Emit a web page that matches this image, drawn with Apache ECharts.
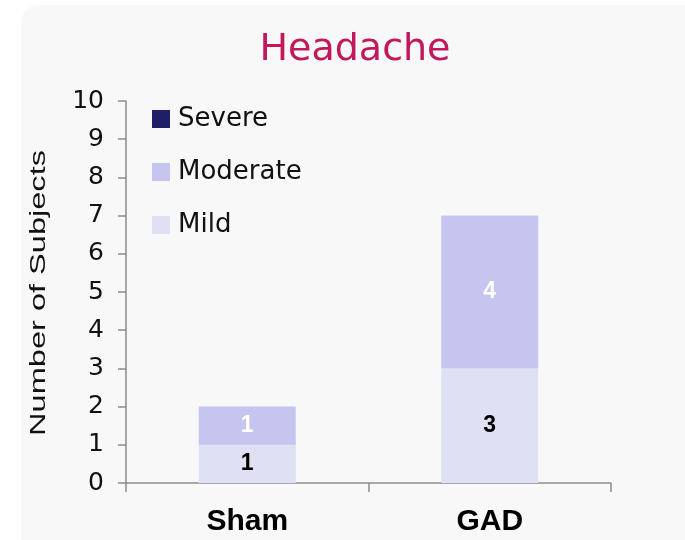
<!DOCTYPE html>
<html>
<head>
<meta charset="utf-8">
<script src="https://cdn.jsdelivr.net/npm/echarts@6/dist/echarts.min.js"></script>
<style>
  html, body { margin: 0; padding: 0; background: #ffffff; }
  #chart { width: 685px; height: 540px; }
</style>
</head>
<body>
<div id="chart"></div>
<script>
// Headache severity counts per group
const categories = ['Sham', 'GAD'];
const mild = [1, 3];
const moderate = [1, 4];
const severe = [0, 0];
const yTicks = [0, 1, 2, 3, 4, 5, 6, 7, 8, 9, 10];
const yAxisTitle = 'Number of Subjects';

const chart = echarts.init(document.getElementById('chart'));

const hideZero = (p) => (p.value === 0 ? '' : String(p.value));

chart.setOption({
  animation: false,
  graphic: [
    {
      type: 'rect',
      z: -10,
      silent: true,
      shape: { x: 21, y: 5, width: 720, height: 600, r: 18 },
      style: { fill: '#f8f8f8' }
    },
    {
      // vertical axis title, drawn elongated along its reading direction
      type: 'text',
      x: 39,
      y: 293,
      rotation: Math.PI / 2,
      scaleX: 1.48,
      silent: true,
      style: {
        text: yAxisTitle,
        font: '22px "Liberation Sans", Arial, sans-serif',
        fill: '#111',
        align: 'center',
        verticalAlign: 'middle'
      }
    }
  ],
  title: {
    text: 'Headache',
    left: 350,
    textAlign: 'center',
    top: 26,
    textStyle: { fontFamily: 'DejaVu Sans', fontWeight: 'normal', fontSize: 38, color: '#c2185b' }
  },
  legend: {
    orient: 'vertical',
    left: 147,
    top: 101,
    itemWidth: 18,
    itemHeight: 18,
    itemGap: 27,
    icon: 'rect',
    data: ['Severe', 'Moderate', 'Mild'],
    textStyle: { fontFamily: 'DejaVu Sans', fontSize: 26, color: '#111', lineHeight: 18, padding: [0, 0, 0, 3] }
  },
  grid: { left: 126, right: 74, top: 101, bottom: 57 },
  xAxis: {
    type: 'category',
    data: categories,
    axisLine: { lineStyle: { color: '#8c8c8c', width: 1.5 } },
    axisTick: { show: true, length: 9, lineStyle: { color: '#8c8c8c', width: 1.5 } },
    axisLabel: { fontFamily: 'Liberation Sans', fontWeight: 'bold', fontSize: 30, color: '#000', margin: 24 }
  },
  yAxis: {
    type: 'value',
    min: yTicks[0],
    max: yTicks[yTicks.length - 1],
    interval: 1,
    splitLine: { show: false },
    axisLine: { show: true, lineStyle: { color: '#8c8c8c', width: 1.5 } },
    axisTick: { show: true, length: 8, lineStyle: { color: '#8c8c8c', width: 1.5 } },
    axisLabel: { fontFamily: 'DejaVu Sans', fontSize: 25, color: '#111', margin: 22 }
  },
  series: [
    {
      name: 'Mild', type: 'bar', stack: 'total', data: mild, barWidth: '40%',
      itemStyle: { color: '#dfe0f3' },
      label: { show: true, position: 'inside', formatter: hideZero,
               fontFamily: 'Liberation Sans', fontWeight: 'bold', fontSize: 23, color: '#000' }
    },
    {
      name: 'Moderate', type: 'bar', stack: 'total', data: moderate, barWidth: '40%',
      itemStyle: { color: '#c5c5f0' },
      label: { show: true, position: 'inside', formatter: hideZero,
               fontFamily: 'Liberation Sans', fontWeight: 'bold', fontSize: 23, color: '#ffffff' }
    },
    {
      name: 'Severe', type: 'bar', stack: 'total', data: severe, barWidth: '40%',
      itemStyle: { color: '#1f1f66' },
      label: { show: true, position: 'inside', formatter: hideZero,
               fontFamily: 'Liberation Sans', fontWeight: 'bold', fontSize: 23, color: '#ffffff' }
    }
  ]
});
</script>
</body>
</html>
